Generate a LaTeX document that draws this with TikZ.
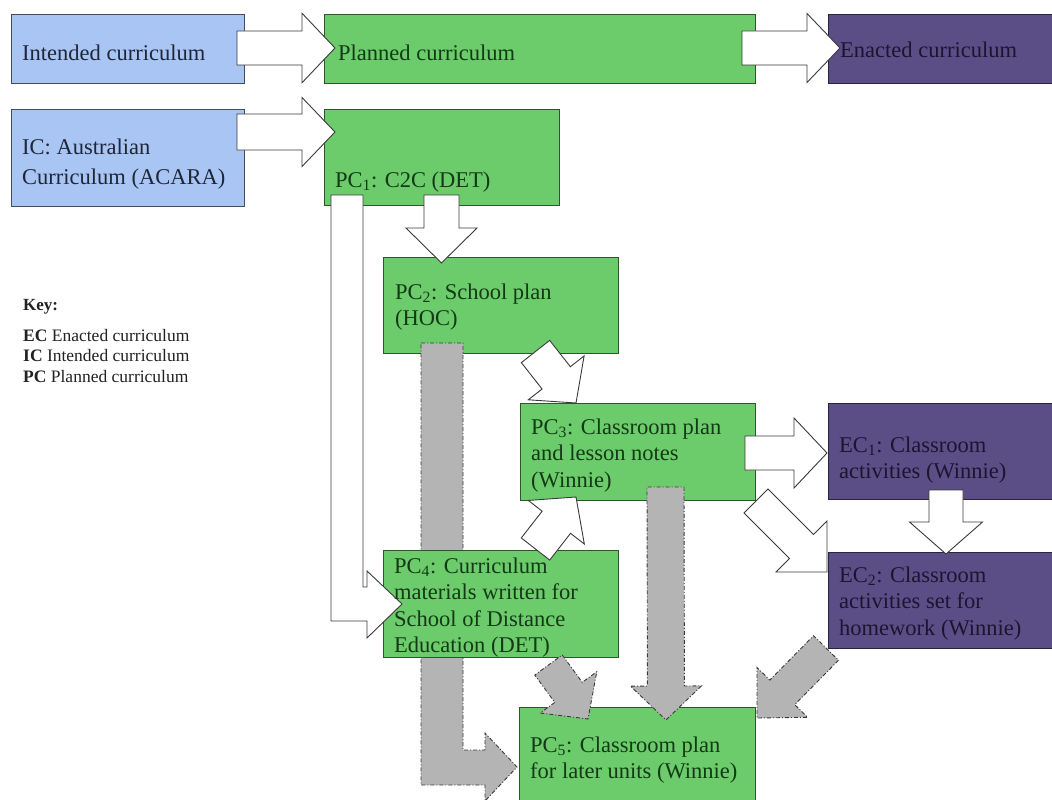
\documentclass[tikz,border=0pt]{standalone}
\usepackage{fontspec}
\setmainfont{Liberation Serif}
\usetikzlibrary{calc}

\definecolor{icfill}{HTML}{A9C5F3}
\definecolor{icline}{HTML}{434B5C}
\definecolor{ictext}{HTML}{1F2638}
\definecolor{pcfill}{HTML}{6CCB6A}
\definecolor{pcline}{HTML}{2F5530}
\definecolor{pctext}{HTML}{123A16}
\definecolor{ecfill}{HTML}{5B4E87}
\definecolor{ecline}{HTML}{2A2340}
\definecolor{ectext}{HTML}{1B1530}
\definecolor{flowfill}{HTML}{B4B4B4}
\definecolor{flowline}{HTML}{3A3A3A}
\definecolor{keytext}{HTML}{222222}

% left-aligned lines whose baseline is the first line's baseline
\newcommand\ml[1]{\begin{tabular}[t]{@{}l@{}}#1\end{tabular}}

% block arrow: style, from, to, half shaft width, half head width, head length
\newcommand\blockarrow[6]{%
  \coordinate (hb) at ($(#3)!#6!(#2)$);
  \draw[#1] ($(#2)!#4!90:(#3)$) -- ($(hb)!#4!90:(#3)$) -- ($(hb)!#5!90:(#3)$) -- (#3)
    -- ($(hb)!#5!-90:(#3)$) -- ($(hb)!#4!-90:(#3)$) -- ($(#2)!#4!-90:(#3)$) -- cycle;}

\begin{document}
\begin{tikzpicture}[x=1pt,y=-1pt,
  panel/.style={anchor=north west, inner sep=0pt, line width=1pt},
  icpanel/.style={panel, fill=icfill, draw=icline},
  pcpanel/.style={panel, fill=pcfill, draw=pcline},
  ecpanel/.style={panel, fill=ecfill, draw=ecline},
  boxtext/.style={anchor=base west, inner sep=0pt, font=\fontsize{22.5}{26.5}\selectfont},
  keyfont/.style={anchor=base west, inner sep=0pt, text=keytext, font=\fontsize{17.5}{20.5}\selectfont},
  openarrow/.style={fill=white, draw=flowline, line width=0.9pt, line join=miter},
  grayarrow/.style={fill=flowfill, draw=flowline, line width=0.9pt, line join=miter,
    dash pattern=on 4pt off 2pt on 1pt off 2pt},
]
\clip (0,0) rectangle (1052,800);
\fill[white] (0,0) rectangle (1052,800);

% ---- boxes ----
\node[icpanel, minimum width=233pt, minimum height=69pt] (intended) at (11,14) {};
\node[pcpanel, minimum width=431pt, minimum height=69pt] (planned) at (324,14) {};
\node[ecpanel, minimum width=240pt, minimum height=69pt] (enacted) at (828,14) {};
\node[icpanel, minimum width=233pt, minimum height=97pt] (ic) at (11,109) {};
\node[pcpanel, minimum width=235pt, minimum height=96pt] (pc1) at (324,109) {};
\node[pcpanel, minimum width=235pt, minimum height=96pt] (pc2) at (383,257) {};
\node[pcpanel, minimum width=235pt, minimum height=97pt] (pc3) at (520,403) {};
\node[ecpanel, minimum width=240pt, minimum height=96pt] (ec1) at (828,403) {};
\node[ecpanel, minimum width=240pt, minimum height=96pt] (ec2) at (828,552) {};
\node[pcpanel, minimum width=236pt, minimum height=110pt] (pc5) at (519,707) {};

% ---- PC2 to PC5, running behind PC4 ----
\coordinate (g1s) at (442,343);
\coordinate (g1t) at (517,767);
\draw[grayarrow] ($(g1s)+(-21,0)$) -- ($(g1s)+(21,0)$) -- ($(g1s |- g1t)+(21,-17)$)
  -- ($(g1t)+(-32,-17)$) -- ($(g1t)+(-32,-34)$) -- (g1t) -- ($(g1t)+(-32,34)$)
  -- ($(g1t)+(-32,18)$) -- ($(g1s |- g1t)+(-21,18)$) -- cycle;

\node[pcpanel, minimum width=235pt, minimum height=107pt] (pc4) at (383,550) {};

% ---- white arrows ----
\coordinate (a1s) at (237,48);   \coordinate (a1t) at (335,48);
\blockarrow{openarrow}{a1s}{a1t}{17pt}{34.75pt}{33pt}
\coordinate (a2s) at (742,48);   \coordinate (a2t) at (840,48);
\blockarrow{openarrow}{a2s}{a2t}{17pt}{34.5pt}{33pt}
\coordinate (a3s) at (237,132);  \coordinate (a3t) at (335,132);
\blockarrow{openarrow}{a3s}{a3t}{18pt}{34.5pt}{33pt}
\coordinate (a4s) at (441.5,195); \coordinate (a4t) at (441.5,263);
\blockarrow{openarrow}{a4s}{a4t}{17.5pt}{35.5pt}{35pt}
\coordinate (a6s) at (535.5,351.5); \coordinate (a6t) at (576,403);
\blockarrow{openarrow}{a6s}{a6t}{18pt}{35.5pt}{32pt}
\coordinate (a7s) at (535.5,549); \coordinate (a7t) at (576,497);
\blockarrow{openarrow}{a7s}{a7t}{18pt}{35.5pt}{32pt}
\coordinate (a8s) at (745,453);  \coordinate (a8t) at (827,453);
\blockarrow{openarrow}{a8s}{a8t}{17pt}{35pt}{33pt}
\coordinate (a9s) at (756,501);  \coordinate (a9t) at (827,572);
\blockarrow{openarrow}{a9s}{a9t}{17pt}{36pt}{36pt}
\coordinate (a10s) at (946,490); \coordinate (a10t) at (946,554);
\blockarrow{openarrow}{a10s}{a10t}{17pt}{36.5pt}{32pt}

% PC1 to PC4, the long bent arrow
\coordinate (l1s) at (347,195);
\coordinate (l1t) at (402,604);
\draw[openarrow] ($(l1s)+(-16,0)$) -- ($(l1s)+(16,0)$) -- ($(l1s |- l1t)+(16,-17)$)
  -- ($(l1t)+(-35,-17)$) -- ($(l1t)+(-35,-33)$) -- (l1t) -- ($(l1t)+(-35,34)$)
  -- ($(l1t)+(-35,17)$) -- ($(l1s |- l1t)+(-16,17)$) -- cycle;

% ---- grey arrows into PC5 ----
\coordinate (g2s) at (665.5,487); \coordinate (g2t) at (666,720);
\blockarrow{grayarrow}{g2s}{g2t}{18.5pt}{35.5pt}{34pt}
\coordinate (g3s) at (548.5,665); \coordinate (g3t) at (588,719);
\blockarrow{grayarrow}{g3s}{g3t}{17pt}{35pt}{33pt}
\coordinate (g4s) at (826,648);  \coordinate (g4t) at (757,718);
\blockarrow{grayarrow}{g4s}{g4t}{17.5pt}{35.5pt}{36pt}

% ---- texts ----
\node[boxtext, text=ictext] (intended-t) at (22,60) {Intended curriculum};
\node[boxtext, text=pctext] (planned-t) at (338,60) {Planned curriculum};
\node[boxtext, text=ectext] (enacted-t) at (840,58) {Enacted curriculum};
\node[boxtext, text=ictext, font=\fontsize{22.5}{30}\selectfont] (ic-t) at (22,154)
  {\ml{IC: Australian\\ Curriculum (ACARA)}};
\node[boxtext, text=pctext] (pc1-t) at (335,187) {PC\textsubscript{1}: C2C (DET)};
\node[boxtext, text=pctext] (pc2-t) at (395,299) {\ml{PC\textsubscript{2}: School plan\\ (HOC)}};
\node[boxtext, text=pctext] (pc3-t) at (531,434)
  {\ml{PC\textsubscript{3}: Classroom plan\\ and lesson notes\\ (Winnie)}};
\node[boxtext, text=ectext] (ec1-t) at (839,452)
  {\ml{EC\textsubscript{1}: Classroom\\ activities (Winnie)}};
\node[boxtext, text=ectext] (ec2-t) at (839,582)
  {\ml{EC\textsubscript{2}: Classroom\\ activities set for\\ homework (Winnie)}};
\node[boxtext, text=pctext] (pc4-t) at (394,573)
  {\ml{PC\textsubscript{4}: Curriculum\\ materials written for\\ School of Distance\\ Education (DET)}};
\node[boxtext, text=pctext] (pc5-t) at (530,752)
  {\ml{PC\textsubscript{5}: Classroom plan\\ for later units (Winnie)}};

% ---- key ----
\node[keyfont, font=\fontsize{17}{20.5}\selectfont\bfseries] (key) at (23,310) {Key:};
\node[keyfont] (key-list) at (23,341)
  {\ml{\textbf{EC} Enacted curriculum\\ \textbf{IC} Intended curriculum\\ \textbf{PC} Planned curriculum}};
\end{tikzpicture}
\end{document}
